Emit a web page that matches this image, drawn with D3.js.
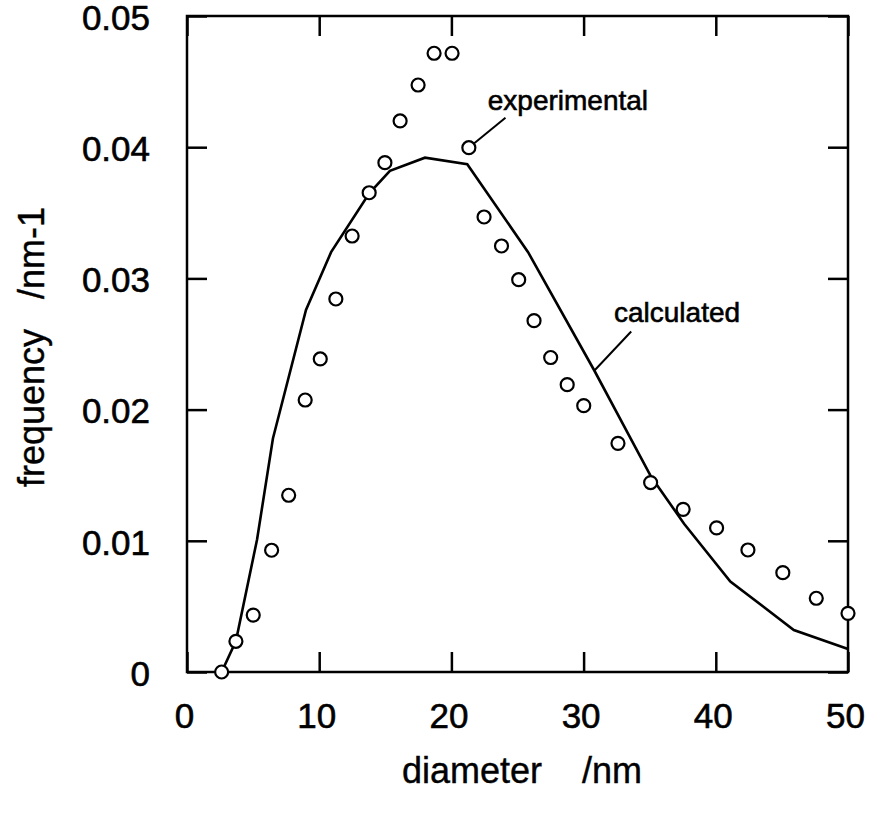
<!DOCTYPE html>
<html>
<head>
  <title>diameter distribution</title>
  <script src="https://d3js.org/d3.v7.min.js"></script>
  <style>
    body { margin: 0; background: #fff; }
    text { font-family: "Liberation Sans", Arial, sans-serif; fill: #000; stroke: #000; stroke-width: 0.6px; }
    .axis .domain { stroke: none; }
    .axis line { stroke: #000; stroke-width: 2.5px; }
  </style>
</head>
<body>
<svg id="chart" width="883" height="818"></svg>
<script>
  // experimental points (diameter nm, frequency /nm-1)
  const expDiameter = [2.62, 3.70, 5.01, 6.40, 7.69, 8.94, 10.08, 11.26, 12.49, 13.78, 14.97, 16.12,
                       17.48, 18.69, 20.05, 21.32, 22.47, 23.79, 25.09, 26.25, 27.51, 28.76, 30.01,
                       32.6, 35.07, 37.53, 40.06, 42.43, 45.07, 47.6, 50.0];
  const expFreq = [0, 0.00234, 0.00434, 0.00928, 0.01347, 0.02073, 0.02386, 0.02843, 0.03323, 0.03653,
                   0.03882, 0.0420, 0.04474, 0.04716, 0.04716, 0.03996, 0.03468, 0.03247, 0.0299, 0.02678,
                   0.02397, 0.0219, 0.0203, 0.01743, 0.01444, 0.0124, 0.01098, 0.0093, 0.00757, 0.00562, 0.00447];

  // calculated curve
  const calcDiameter = [2.62, 3.70, 5.3, 6.5, 9.0, 10.9, 13.8, 15.35, 18.0, 21.2, 25.8, 30.8, 35.1, 37.6, 41.1, 45.9, 50.0];
  const calcFreq = [0, 0.00236, 0.0101, 0.0178, 0.0276, 0.0320, 0.0365, 0.0382, 0.0392, 0.0387,
                    0.0320, 0.0230, 0.0149, 0.0113, 0.0069, 0.0032, 0.00175];

  const xTicks = [0, 10, 20, 30, 40, 50];
  const yTicks = [0, 0.01, 0.02, 0.03, 0.04, 0.05];
  const yTickLabels = ["0", "0.01", "0.02", "0.03", "0.04", "0.05"];

  let svg = d3.select("#chart");
  let margin = {top: 16, right: 35, bottom: 146, left: 187};
  let width = 883 - margin.left - margin.right;
  let height = 818 - margin.top - margin.bottom;

  let x = d3.scaleLinear().domain([0, 50]).range([0, width]);
  let y = d3.scaleLinear().domain([0, 0.05]).range([height, 0]);

  let g = svg.append("g").attr("transform", `translate(${margin.left},${margin.top})`);

  // ticks pointing inward on all four sides
  g.append("g").attr("class", "axis")
    .attr("transform", `translate(0,${height})`)
    .call(d3.axisBottom(x).tickValues(xTicks).tickSizeInner(-20).tickSizeOuter(0).tickPadding(31))
    .selectAll("text").style("font-size", "35px").attr("dx", "-3");

  g.append("g").attr("class", "axis")
    .call(d3.axisTop(x).tickValues(xTicks).tickSizeInner(-20).tickSizeOuter(0).tickFormat(""));

  g.append("g").attr("class", "axis")
    .call(d3.axisLeft(y).tickValues(yTicks).tickSizeInner(-20).tickSizeOuter(0).tickPadding(37)
      .tickFormat((d, i) => yTickLabels[i]))
    .selectAll("text").style("font-size", "35px").attr("dy", "0.38em");

  g.append("g").attr("class", "axis")
    .attr("transform", `translate(${width},0)`)
    .call(d3.axisRight(y).tickValues(yTicks).tickSizeInner(-20).tickSizeOuter(0).tickFormat(""));

  // frame
  g.append("rect")
    .attr("width", width).attr("height", height)
    .attr("fill", "none").attr("stroke", "#000").attr("stroke-width", 2.5);

  // calculated line
  let calc = calcDiameter.map((d, i) => [d, calcFreq[i]]);
  g.append("path")
    .datum(calc)
    .attr("fill", "none")
    .attr("stroke", "#000")
    .attr("stroke-width", 2.6)
    .attr("d", d3.line().x(d => x(d[0])).y(d => y(d[1])));

  // experimental circles
  let exp = expDiameter.map((d, i) => [d, expFreq[i]]);
  g.selectAll(".pt")
    .data(exp)
    .enter()
    .append("circle")
    .attr("class", "pt")
    .attr("cx", d => x(d[0]))
    .attr("cy", d => y(d[1]))
    .attr("r", 6.5)
    .attr("fill", "#fff")
    .attr("stroke", "#000")
    .attr("stroke-width", 2.2);

  // annotations
  let p16 = exp[15];
  let ex1 = x(p16[0]), ey1 = y(p16[1]);
  let ex2 = x(24.09), ey2 = y(0.04225);
  let len = Math.hypot(ex2 - ex1, ey2 - ey1);
  g.append("line")
    .attr("x1", ex1 + (ex2 - ex1) / len * 7).attr("y1", ey1 + (ey2 - ey1) / len * 7)
    .attr("x2", ex2).attr("y2", ey2)
    .attr("stroke", "#000").attr("stroke-width", 2);
  g.append("text")
    .attr("x", x(22.75)).attr("y", y(0.04284))
    .style("font-size", "28px")
    .text("experimental");

  g.append("line")
    .attr("x1", x(30.84)).attr("y1", y(0.0230))
    .attr("x2", x(33.6)).attr("y2", y(0.02595))
    .attr("stroke", "#000").attr("stroke-width", 2);
  g.append("text")
    .attr("x", x(32.3)).attr("y", y(0.0267))
    .style("font-size", "28px")
    .text("calculated");

  // axis titles
  svg.append("text")
    .attr("x", 522).attr("y", 783)
    .attr("text-anchor", "middle")
    .style("font-size", "36px")
    .style("stroke-width", "0.4px")
    .style("white-space", "pre")
    .text("diameter    /nm");

  svg.append("text")
    .attr("transform", "translate(44,347) rotate(-90)")
    .attr("text-anchor", "middle")
    .style("font-size", "36px")
    .style("stroke-width", "0.4px")
    .style("white-space", "pre")
    .text("frequency   /nm-1");
</script>
</body>
</html>
